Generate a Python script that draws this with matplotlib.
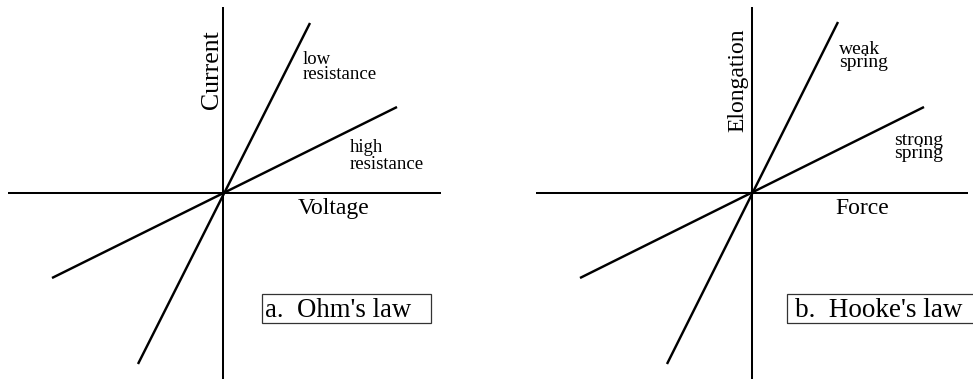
import matplotlib
matplotlib.use("Agg")
import matplotlib.pyplot as plt
from matplotlib.patches import Rectangle

plt.rcParams["font.family"] = ["Liberation Serif", "DejaVu Serif"]

# 데이터 (원점 기준, 화면 픽셀 단위)
voltage_low = [-85, 87]
current_low = [-171, 170]
voltage_high = [-171, 174]
current_high = [-85, 86]

force_weak = [-85, 86]
elong_weak = [-171, 171]
force_strong = [-172, 172]
elong_strong = [-85, 86]

W, H = 973, 379
fig = plt.figure(figsize=(W / 100, H / 100), dpi=100)

AX_LW = 1.45
LN_LW = 1.75


def panel(rect, xlim, hx, curves, labels):
    ax = fig.add_axes(rect)
    ax.set_xlim(*xlim)
    ax.set_ylim(-186, 193)
    ax.axis("off")
    # 축
    ax.plot(hx, [0, 0], color="black", lw=AX_LW, solid_capstyle="butt")
    ax.plot([0, 0], [-190, 186], color="black", lw=AX_LW, solid_capstyle="butt")
    for x, y in curves:
        ax.plot(x, y, color="black", lw=LN_LW, solid_capstyle="butt")
    for (tx, ty, s, fs, kw) in labels:
        ax.text(tx, ty, s, fontsize=fs, va="baseline", ha=kw.get("ha", "left"),
                rotation=kw.get("rot", 0), rotation_mode="anchor", color="black",
                linespacing=kw.get("ls", 1.2), clip_on=False)
    return ax


axl = panel([0, 0, 486.5 / W, 1], (-223, 263.5), [-215, 218],
            [(voltage_low, current_low), (voltage_high, current_high)],
            [(-5, 123, "Current", 18.5, {"ha": "center", "rot": 90}),
             (80, 112.5, "low\nresistance", 13.5, {"ls": 0.85}),
             (127, 23.7, "high\nresistance", 13.5, {"ls": 0.97}),
             (75, -21, "Voltage", 17, {}),
             (42, -124, "a.  Ohm's law", 19.3, {})])
axl.add_patch(Rectangle((39, -130), 169, 29, fill=False, ec="#333333", lw=0.9))

axr = panel([486.5 / W, 0, 486.5 / W, 1], (-265.5, 221), [-216, 216],
            [(force_weak, elong_weak), (force_strong, elong_strong)],
            [(-8.7, 112.5, "Elongation", 17, {"ha": "center", "rot": 90}),
             (87, 122.5, "weak\nspring", 14, {"ls": 0.72}),
             (142, 31, "strong\nspring", 14, {"ls": 0.72}),
             (83, -21, "Force", 17, {}),
             (43, -124, "b.  Hooke's law", 19.5, {})])
axr.add_patch(Rectangle((35, -130), 230, 29, fill=False, ec="#333333", lw=0.9,
                        clip_on=False))

fig.savefig("out.png", dpi=100, facecolor="white")
